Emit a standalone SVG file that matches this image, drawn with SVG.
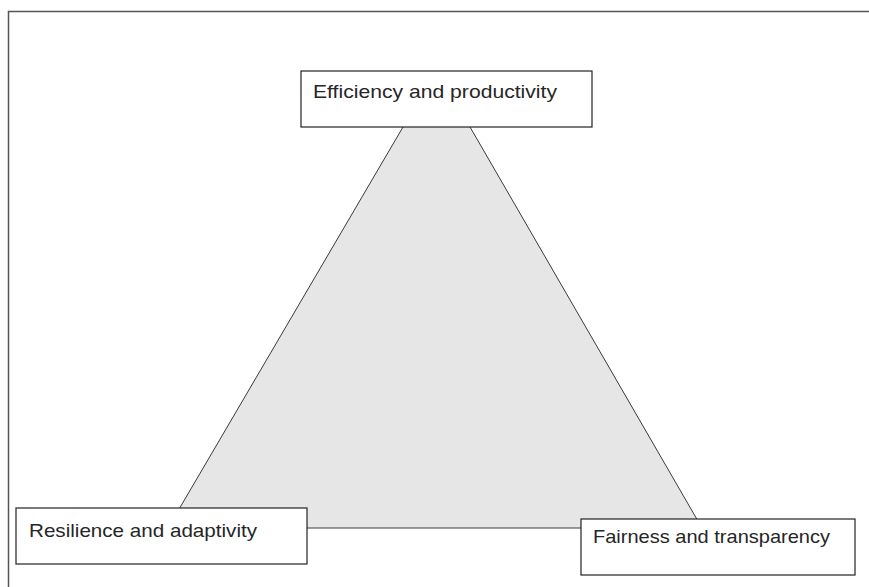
<svg xmlns="http://www.w3.org/2000/svg" width="869" height="587" viewBox="0 0 869 587">
<style>
.frame{fill:none;stroke:#555;stroke-width:1.5}
.tri{fill:#e6e6e6;stroke:#3a3a3a;stroke-width:1}
.box{fill:#fff;stroke:#222;stroke-width:1.2}
.lbl{font-family:"Liberation Sans",Arial,sans-serif;font-size:19px;fill:#262626}
</style>
<rect width="869" height="587" fill="#fff"/>
<path class="frame" d="M8.5 587 V11.5 H869"/>
<g id="connectors">
<polygon class="tri" points="407.7,119 168,528 702,528 465.4,119"/>
</g>
<g id="node-efficiency">
<rect class="box" x="301" y="71" width="291" height="56"/>
<text class="lbl" x="313" y="97.5" textLength="244" lengthAdjust="spacingAndGlyphs">Efficiency and productivity</text>
</g>
<g id="node-resilience">
<rect class="box" x="16" y="508" width="291" height="56"/>
<text class="lbl" x="29" y="537" textLength="228" lengthAdjust="spacingAndGlyphs">Resilience and adaptivity</text>
</g>
<g id="node-fairness">
<rect class="box" x="581" y="519" width="274" height="56"/>
<text class="lbl" x="593" y="543" textLength="237" lengthAdjust="spacingAndGlyphs">Fairness and transparency</text>
</g>
</svg>
